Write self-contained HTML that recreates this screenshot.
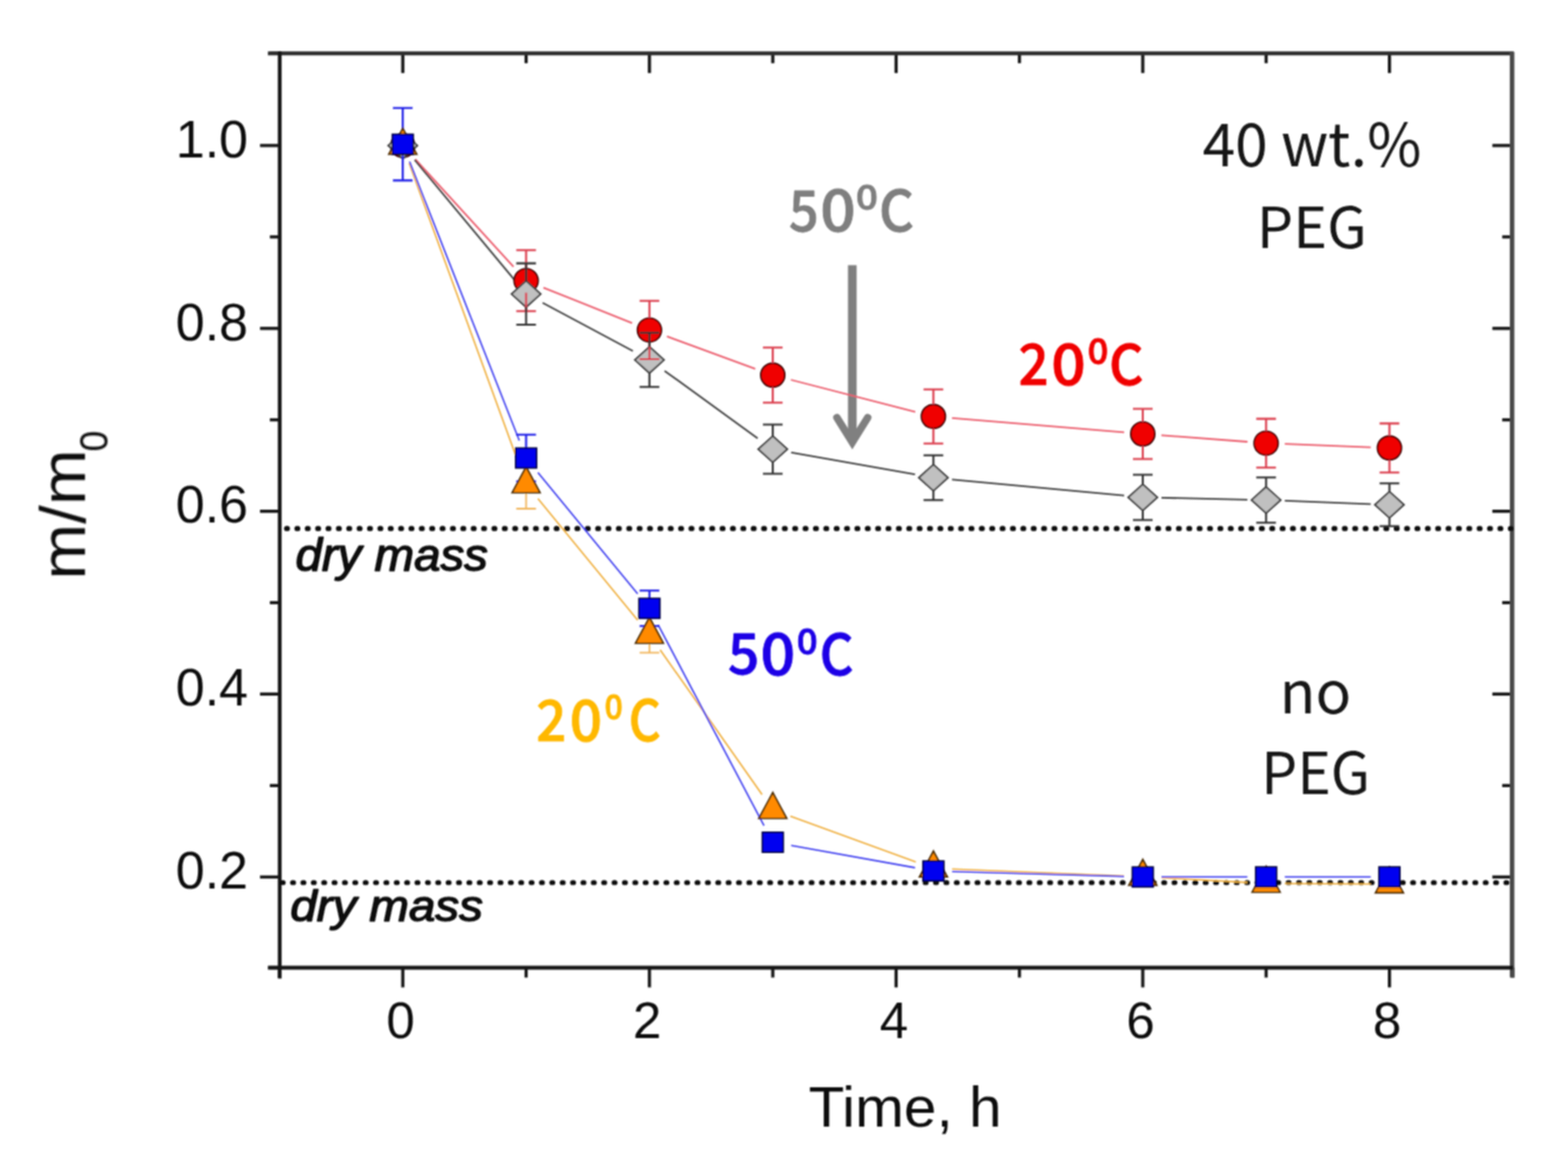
<!DOCTYPE html>
<html><head><meta charset="utf-8"><title>m/m0 vs time</title>
<style>html,body{margin:0;padding:0;background:#fff;}svg{display:block;}</style></head>
<body><div id="w"><svg width="1593" height="1183" viewBox="0 0 1593 1183">
<defs><filter id="bl" x="0" y="0" width="100%" height="100%" filterUnits="userSpaceOnUse"><feConvolveMatrix order="3" kernelMatrix="1 2 1 2 4 2 1 2 1" divisor="16" edgeMode="duplicate" preserveAlpha="false"/></filter></defs>
<rect width="1593" height="1183" fill="#fff"/>
<g filter="url(#bl)">
<g stroke="#151515" stroke-width="3.2" fill="none"><line x1="283.9" y1="983.5" x2="283.9" y2="993.5"/><line x1="409.2" y1="983.5" x2="409.2" y2="1003.5"/><line x1="409.2" y1="54.2" x2="409.2" y2="74.2"/><line x1="534.5" y1="983.5" x2="534.5" y2="993.5"/><line x1="534.5" y1="54.2" x2="534.5" y2="64.2"/><line x1="659.8" y1="983.5" x2="659.8" y2="1003.5"/><line x1="659.8" y1="54.2" x2="659.8" y2="74.2"/><line x1="785.1" y1="983.5" x2="785.1" y2="993.5"/><line x1="785.1" y1="54.2" x2="785.1" y2="64.2"/><line x1="910.4" y1="983.5" x2="910.4" y2="1003.5"/><line x1="910.4" y1="54.2" x2="910.4" y2="74.2"/><line x1="1035.7" y1="983.5" x2="1035.7" y2="993.5"/><line x1="1035.7" y1="54.2" x2="1035.7" y2="64.2"/><line x1="1161.0" y1="983.5" x2="1161.0" y2="1003.5"/><line x1="1161.0" y1="54.2" x2="1161.0" y2="74.2"/><line x1="1286.3" y1="983.5" x2="1286.3" y2="993.5"/><line x1="1286.3" y1="54.2" x2="1286.3" y2="64.2"/><line x1="1411.6" y1="983.5" x2="1411.6" y2="1003.5"/><line x1="1411.6" y1="54.2" x2="1411.6" y2="74.2"/><line x1="1536.9" y1="983.5" x2="1536.9" y2="993.5"/><line x1="274.2" y1="983.5" x2="284.2" y2="983.5"/><line x1="264.2" y1="891.3" x2="284.2" y2="891.3"/><line x1="1516.2" y1="891.3" x2="1536.2" y2="891.3"/><line x1="274.2" y1="798.4" x2="284.2" y2="798.4"/><line x1="1526.2" y1="798.4" x2="1536.2" y2="798.4"/><line x1="264.2" y1="705.4" x2="284.2" y2="705.4"/><line x1="1516.2" y1="705.4" x2="1536.2" y2="705.4"/><line x1="274.2" y1="612.5" x2="284.2" y2="612.5"/><line x1="1526.2" y1="612.5" x2="1536.2" y2="612.5"/><line x1="264.2" y1="519.6" x2="284.2" y2="519.6"/><line x1="1516.2" y1="519.6" x2="1536.2" y2="519.6"/><line x1="274.2" y1="426.7" x2="284.2" y2="426.7"/><line x1="1526.2" y1="426.7" x2="1536.2" y2="426.7"/><line x1="264.2" y1="333.8" x2="284.2" y2="333.8"/><line x1="1516.2" y1="333.8" x2="1536.2" y2="333.8"/><line x1="274.2" y1="240.8" x2="284.2" y2="240.8"/><line x1="1526.2" y1="240.8" x2="1536.2" y2="240.8"/><line x1="264.2" y1="147.9" x2="284.2" y2="147.9"/><line x1="1516.2" y1="147.9" x2="1536.2" y2="147.9"/><line x1="274.2" y1="54.2" x2="284.2" y2="54.2"/></g>
<line x1="272.2" y1="54.2" x2="1537.7" y2="54.2" stroke="#2e2e2e" stroke-width="4"/>
<line x1="1536.2" y1="52.7" x2="1536.2" y2="993.5" stroke="#4a4a4a" stroke-width="4.6"/>
<line x1="272.2" y1="983.5" x2="1537.2" y2="983.5" stroke="#141414" stroke-width="4"/>
<line x1="284.2" y1="52.2" x2="284.2" y2="994.5" stroke="#141414" stroke-width="3.8"/>
<line x1="291.2" y1="537.2" x2="1536.2" y2="537.2" stroke="#111" stroke-width="5.2" stroke-linecap="round" stroke-dasharray="0.8 9.736"/>
<line x1="286.8" y1="897.0" x2="1536.2" y2="897.0" stroke="#111" stroke-width="5.2" stroke-linecap="round" stroke-dasharray="0.8 9.736"/>
<text x="406.9" y="1055.3" text-anchor="middle" font-family="Liberation Sans, sans-serif" font-size="52" fill="#111">0</text>
<text x="657.5" y="1055.3" text-anchor="middle" font-family="Liberation Sans, sans-serif" font-size="52" fill="#111">2</text>
<text x="908.1" y="1055.3" text-anchor="middle" font-family="Liberation Sans, sans-serif" font-size="52" fill="#111">4</text>
<text x="1158.7" y="1055.3" text-anchor="middle" font-family="Liberation Sans, sans-serif" font-size="52" fill="#111">6</text>
<text x="1409.3" y="1055.3" text-anchor="middle" font-family="Liberation Sans, sans-serif" font-size="52" fill="#111">8</text>
<text x="252.1" y="159.7" text-anchor="end" font-family="Liberation Sans, sans-serif" font-size="53" fill="#111">1.0</text>
<text x="252.1" y="345.6" text-anchor="end" font-family="Liberation Sans, sans-serif" font-size="53" fill="#111">0.8</text>
<text x="252.1" y="531.4" text-anchor="end" font-family="Liberation Sans, sans-serif" font-size="53" fill="#111">0.6</text>
<text x="252.1" y="717.2" text-anchor="end" font-family="Liberation Sans, sans-serif" font-size="53" fill="#111">0.4</text>
<text x="252.1" y="903.1" text-anchor="end" font-family="Liberation Sans, sans-serif" font-size="53" fill="#111">0.2</text>
<text transform="translate(821.41 1145.11) scale(1.0470 1)" font-family="Liberation Sans, sans-serif" font-weight="normal" font-style="normal" font-size="56.86" fill="#111" >Time, h</text>
<g transform="translate(86.3 584.4) rotate(-90)"><text transform="translate(-4.77 -0.00) scale(1.0382 1)" font-family="Liberation Sans, sans-serif" font-weight="normal" font-style="normal" font-size="65.62" fill="#111" >m/m</text><text transform="translate(125.57 23.29) scale(0.9334 1)" font-family="Liberation Sans, sans-serif" font-weight="normal" font-style="normal" font-size="40.85" fill="#111" >0</text></g>
<g stroke="#808080" fill="none"><line x1="865.9" y1="269.5" x2="865.9" y2="446" stroke-width="8.8"/><polyline points="850.3,424.5 865.9,449.5 881.5,424.5" stroke-width="7.6" stroke-linecap="round" stroke-linejoin="miter" stroke-miterlimit="6"/></g>
<path d="M415.7 165.8L528.0 474.1M546.5 506.7L647.8 630.3M670.7 660.5L774.2 807.5M803.0 829.5L930.4 876.0M967.3 883.3L1142.0 890.2M1180.0 892.0L1267.3 896.9M1305.3 898.0L1392.6 898.5" fill="none" stroke="#f0b040" stroke-width="1.6"/>
<path d="M416.1 164.3L527.6 447.8M546.5 480.2L647.8 603.6M668.7 635.1L776.2 839.2M803.8 859.3L929.6 881.9M967.3 885.7L1142.0 890.8M1180.0 891.3L1267.3 891.2M1305.3 891.2L1392.6 891.2" fill="none" stroke="#4040f0" stroke-width="1.6"/>
<path d="M422.0 161.9L521.7 271.2M552.1 292.3L642.2 328.3M677.6 341.9L767.3 374.8M803.5 386.0L929.9 418.6M967.2 424.9L1142.1 439.4M1179.9 442.4L1267.4 449.0M1305.3 451.1L1392.6 454.6" fill="none" stroke="#ec6070" stroke-width="1.8"/>
<path d="M421.3 162.5L522.4 284.2M551.3 307.8L643.0 356.8M675.2 376.9L769.7 445.4M803.8 459.8L929.6 482.2M967.2 487.3L1142.1 503.7M1180.0 505.9L1267.3 507.8M1305.3 508.9L1392.6 512.3" fill="none" stroke="#444" stroke-width="1.8"/>
<circle cx="409.2" cy="147.9" r="12.2" fill="#f00000" stroke="#3a0000" stroke-width="1.6"/><circle cx="534.5" cy="285.2" r="12.2" fill="#f00000" stroke="#3a0000" stroke-width="1.6"/><circle cx="659.8" cy="335.4" r="12.2" fill="#f00000" stroke="#3a0000" stroke-width="1.6"/><circle cx="785.1" cy="381.3" r="12.2" fill="#f00000" stroke="#3a0000" stroke-width="1.6"/><circle cx="948.3" cy="423.3" r="12.2" fill="#f00000" stroke="#3a0000" stroke-width="1.6"/><circle cx="1161.0" cy="441.0" r="12.2" fill="#f00000" stroke="#3a0000" stroke-width="1.6"/><circle cx="1286.3" cy="450.4" r="12.2" fill="#f00000" stroke="#3a0000" stroke-width="1.6"/><circle cx="1411.6" cy="455.3" r="12.2" fill="#f00000" stroke="#3a0000" stroke-width="1.6"/>
<path d="M409.2 134.5L424.0 147.9L409.2 161.3L394.4 147.9Z" fill="#c0c0c0" stroke="#404040" stroke-width="1.8"/><path d="M534.5 285.4L549.3 298.8L534.5 312.2L519.7 298.8Z" fill="#c0c0c0" stroke="#404040" stroke-width="1.8"/><path d="M659.8 352.4L674.6 365.8L659.8 379.2L645.0 365.8Z" fill="#c0c0c0" stroke="#404040" stroke-width="1.8"/><path d="M785.1 443.1L799.9 456.5L785.1 469.9L770.3 456.5Z" fill="#c0c0c0" stroke="#404040" stroke-width="1.8"/><path d="M948.3 472.1L963.1 485.5L948.3 498.9L933.5 485.5Z" fill="#c0c0c0" stroke="#404040" stroke-width="1.8"/><path d="M1161.0 492.1L1175.8 505.5L1161.0 518.9L1146.2 505.5Z" fill="#c0c0c0" stroke="#404040" stroke-width="1.8"/><path d="M1286.3 494.8L1301.1 508.2L1286.3 521.6L1271.5 508.2Z" fill="#c0c0c0" stroke="#404040" stroke-width="1.8"/><path d="M1411.6 499.6L1426.4 513.0L1411.6 526.4L1396.8 513.0Z" fill="#c0c0c0" stroke="#404040" stroke-width="1.8"/>
<path d="M534.5 254.2V273.0M534.5 297.4V316.2M524.5 254.2H544.5M524.5 316.2H544.5M659.8 305.8V323.2M659.8 347.6V365.0M649.8 305.8H669.8M649.8 365.0H669.8M785.1 353.3V369.1M785.1 393.5V409.3M775.1 353.3H795.1M775.1 409.3H795.1M948.3 395.8V411.1M948.3 435.5V450.8M938.3 395.8H958.3M938.3 450.8H958.3M1161.0 415.5V428.8M1161.0 453.2V466.5M1151.0 415.5H1171.0M1151.0 466.5H1171.0M1286.3 425.6V438.2M1286.3 462.6V475.2M1276.3 425.6H1296.3M1276.3 475.2H1296.3M1411.6 430.4V443.1M1411.6 467.5V480.2M1401.6 430.4H1421.6M1401.6 480.2H1421.6" stroke="#dc4050" stroke-width="2.1" fill="none"/>
<path d="M534.5 267.6V285.4M534.5 312.2V330.0M524.5 267.6H544.5M524.5 330.0H544.5M659.8 338.3V352.4M659.8 379.2V393.3M649.8 338.3H669.8M649.8 393.3H669.8M785.1 431.5V443.1M785.1 469.9V481.5M775.1 431.5H795.1M775.1 481.5H795.1M948.3 462.7V472.1M948.3 498.9V508.3M938.3 462.7H958.3M938.3 508.3H958.3M1161.0 482.5V492.1M1161.0 518.9V528.5M1151.0 482.5H1171.0M1151.0 528.5H1171.0M1286.3 485.2V494.8M1286.3 521.6V531.2M1276.3 485.2H1296.3M1276.3 531.2H1296.3M1411.6 491.3V499.6M1411.6 526.4V534.7M1401.6 491.3H1421.6M1401.6 534.7H1421.6" stroke="#363636" stroke-width="2.1" fill="none"/>
<path d="M534.5 467.0V483.2M534.5 500.8V517.0M524.5 467.0H544.5M524.5 517.0H544.5M659.8 626.7V636.2M659.8 653.8V663.3M649.8 626.7H669.8M649.8 663.3H669.8" stroke="#f2b860" stroke-width="1.8" fill="none"/>
<path d="M409.2 109.8V136.5M409.2 156.7V183.4M399.2 109.8H419.2M399.2 183.4H419.2M534.5 441.8V455.4M534.5 475.6V489.2M524.5 441.8H544.5M524.5 489.2H544.5M659.8 600.3V608.2M659.8 628.4V636.3M649.8 600.3H669.8M649.8 636.3H669.8M775.1 852.0H795.1M775.1 860.0H795.1M938.3 881.2H958.3M938.3 889.2H958.3M1151.0 887.3H1171.0M1151.0 895.3H1171.0M1276.3 887.2H1296.3M1276.3 895.2H1296.3M1401.6 887.2H1421.6M1401.6 895.2H1421.6" stroke="#2020e8" stroke-width="2.1" fill="none"/>
<path d="M409.2 130.4L423.4 156.7L395.0 156.7Z" fill="#ff8a00" stroke="#4a2a00" stroke-width="1.6"/><path d="M534.5 474.5L548.7 500.8L520.3 500.8Z" fill="#ff8a00" stroke="#4a2a00" stroke-width="1.6"/><path d="M659.8 627.5L674.0 653.8L645.6 653.8Z" fill="#ff8a00" stroke="#4a2a00" stroke-width="1.6"/><path d="M785.1 805.5L799.3 831.8L770.9 831.8Z" fill="#ff8a00" stroke="#4a2a00" stroke-width="1.6"/><path d="M948.3 865.0L962.5 891.3L934.1 891.3Z" fill="#ff8a00" stroke="#4a2a00" stroke-width="1.6"/><path d="M1161.0 873.5L1175.2 899.8L1146.8 899.8Z" fill="#ff8a00" stroke="#4a2a00" stroke-width="1.6"/><path d="M1286.3 880.4L1300.5 906.7L1272.1 906.7Z" fill="#ff8a00" stroke="#4a2a00" stroke-width="1.6"/><path d="M1411.6 881.1L1425.8 907.4L1397.4 907.4Z" fill="#ff8a00" stroke="#4a2a00" stroke-width="1.6"/>
<rect x="398.6" y="136.5" width="21.2" height="20.2" fill="#0000f0" stroke="#000040" stroke-width="1.6"/><rect x="523.9" y="455.4" width="21.2" height="20.2" fill="#0000f0" stroke="#000040" stroke-width="1.6"/><rect x="649.2" y="608.2" width="21.2" height="20.2" fill="#0000f0" stroke="#000040" stroke-width="1.6"/><rect x="774.5" y="845.9" width="21.2" height="20.2" fill="#0000f0" stroke="#000040" stroke-width="1.6"/><rect x="937.7" y="875.1" width="21.2" height="20.2" fill="#0000f0" stroke="#000040" stroke-width="1.6"/><rect x="1150.4" y="881.2" width="21.2" height="20.2" fill="#0000f0" stroke="#000040" stroke-width="1.6"/><rect x="1275.7" y="881.1" width="21.2" height="20.2" fill="#0000f0" stroke="#000040" stroke-width="1.6"/><rect x="1401.0" y="881.1" width="21.2" height="20.2" fill="#0000f0" stroke="#000040" stroke-width="1.6"/>
<text transform="translate(1221.70 168.89) scale(0.9877 1)" font-family="Noto Sans CJK JP, sans-serif" font-weight="normal" font-style="normal" font-size="60.53" fill="#141414" >40 wt.%</text>
<text transform="translate(1276.74 251.93) scale(1.0242 1)" font-family="Noto Sans CJK JP, sans-serif" font-weight="normal" font-style="normal" font-size="57.24" fill="#141414" >PEG</text>
<text transform="translate(1299.90 724.71) scale(1.0148 1)" font-family="Noto Sans CJK JP, sans-serif" font-weight="normal" font-style="normal" font-size="59.12" fill="#141414" >no</text>
<text transform="translate(1281.21 807.21) scale(0.9894 1)" font-family="Noto Sans CJK JP, sans-serif" font-weight="normal" font-style="normal" font-size="58.55" fill="#141414" >PEG</text>
<text transform="translate(300.15 579.60) scale(1.0440 1)" font-family="Liberation Sans, sans-serif" font-weight="normal" font-style="italic" font-size="46.17" fill="#111" stroke="#111" stroke-width="1.40" stroke-linejoin="round" >dry mass</text>
<text transform="translate(295.05 935.80) scale(1.0997 1)" font-family="Liberation Sans, sans-serif" font-weight="normal" font-style="italic" font-size="43.83" fill="#111" stroke="#111" stroke-width="1.40" stroke-linejoin="round" >dry mass</text>
<text transform="translate(801.51 234.82) scale(0.9201 1)" font-family="Noto Sans CJK JP, sans-serif" font-weight="500" font-style="normal" font-size="57.67" fill="#7f7f7f" stroke="#7f7f7f" stroke-width="0.80" stroke-linejoin="round" >5</text><text transform="translate(833.33 235.22) scale(1.0911 1)" font-family="Noto Sans CJK JP, sans-serif" font-weight="500" font-style="normal" font-size="58.11" fill="#7f7f7f" stroke="#7f7f7f" stroke-width="0.80" stroke-linejoin="round" >0</text><text transform="translate(869.43 213.35) scale(1.1160 1)" font-family="Noto Sans CJK JP, sans-serif" font-weight="500" font-style="normal" font-size="35.27" fill="#7f7f7f" stroke="#7f7f7f" stroke-width="0.80" stroke-linejoin="round" >0</text><text transform="translate(892.99 235.23) scale(0.9737 1)" font-family="Noto Sans CJK JP, sans-serif" font-weight="500" font-style="normal" font-size="56.58" fill="#7f7f7f" stroke="#7f7f7f" stroke-width="0.80" stroke-linejoin="round" >C</text>
<text transform="translate(1034.85 390.90) scale(0.9478 1)" font-family="Noto Sans CJK JP, sans-serif" font-weight="500" font-style="normal" font-size="56.71" fill="#f00000" stroke="#f00000" stroke-width="0.80" stroke-linejoin="round" >2</text><text transform="translate(1068.03 391.02) scale(1.0681 1)" font-family="Noto Sans CJK JP, sans-serif" font-weight="500" font-style="normal" font-size="57.57" fill="#f00000" stroke="#f00000" stroke-width="0.80" stroke-linejoin="round" >0</text><text transform="translate(1104.96 369.94) scale(1.0357 1)" font-family="Noto Sans CJK JP, sans-serif" font-weight="500" font-style="normal" font-size="35.54" fill="#f00000" stroke="#f00000" stroke-width="0.80" stroke-linejoin="round" >0</text><text transform="translate(1126.65 391.04) scale(0.9666 1)" font-family="Noto Sans CJK JP, sans-serif" font-weight="500" font-style="normal" font-size="56.05" fill="#f00000" stroke="#f00000" stroke-width="0.80" stroke-linejoin="round" >C</text>
<text transform="translate(739.52 685.32) scale(0.9755 1)" font-family="Noto Sans CJK JP, sans-serif" font-weight="500" font-style="normal" font-size="57.53" fill="#1c00e6" stroke="#1c00e6" stroke-width="0.80" stroke-linejoin="round" >5</text><text transform="translate(772.48 686.02) scale(1.0679 1)" font-family="Noto Sans CJK JP, sans-serif" font-weight="500" font-style="normal" font-size="58.38" fill="#1c00e6" stroke="#1c00e6" stroke-width="0.80" stroke-linejoin="round" >0</text><text transform="translate(809.54 665.04) scale(1.0397 1)" font-family="Noto Sans CJK JP, sans-serif" font-weight="500" font-style="normal" font-size="35.81" fill="#1c00e6" stroke="#1c00e6" stroke-width="0.80" stroke-linejoin="round" >0</text><text transform="translate(832.70 686.03) scale(0.9372 1)" font-family="Noto Sans CJK JP, sans-serif" font-weight="500" font-style="normal" font-size="56.84" fill="#1c00e6" stroke="#1c00e6" stroke-width="0.80" stroke-linejoin="round" >C</text>
<text transform="translate(544.85 753.30) scale(0.9365 1)" font-family="Noto Sans CJK JP, sans-serif" font-weight="500" font-style="normal" font-size="57.40" fill="#ffb800" stroke="#ffb800" stroke-width="0.80" stroke-linejoin="round" >2</text><text transform="translate(578.70 753.22) scale(1.0019 1)" font-family="Noto Sans CJK JP, sans-serif" font-weight="500" font-style="normal" font-size="57.97" fill="#ffb800" stroke="#ffb800" stroke-width="0.80" stroke-linejoin="round" >0</text><text transform="translate(614.18 731.35) scale(0.9276 1)" font-family="Noto Sans CJK JP, sans-serif" font-weight="500" font-style="normal" font-size="34.86" fill="#ffb800" stroke="#ffb800" stroke-width="0.80" stroke-linejoin="round" >0</text><text transform="translate(638.87 753.24) scale(0.8954 1)" font-family="Noto Sans CJK JP, sans-serif" font-weight="500" font-style="normal" font-size="56.45" fill="#ffb800" stroke="#ffb800" stroke-width="0.80" stroke-linejoin="round" >C</text>
</g>
</svg></div></body></html>
